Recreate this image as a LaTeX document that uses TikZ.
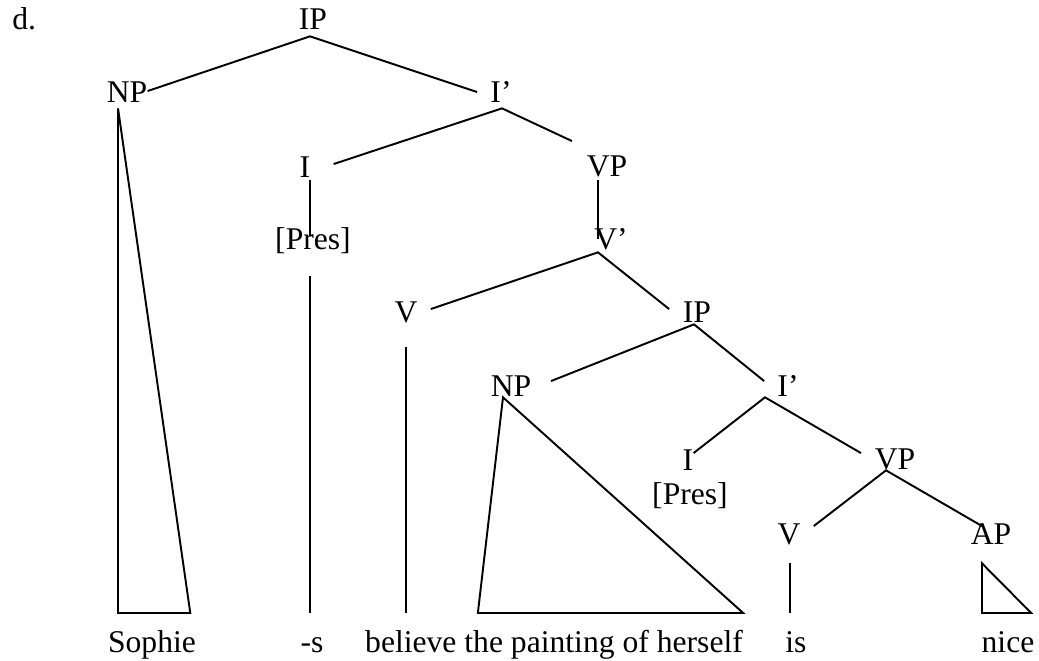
\documentclass[tikz,border=0pt]{standalone}
\usepackage{fontspec}
\setmainfont{Liberation Serif}
\newcommand{\treefont}{\fontsize{18}{21}\selectfont}

\tikzset{
  % tree labels sit on their baseline
  cat/.style = {
    anchor=base,
    inner sep=0pt,
    text height=0.66em,
    text depth=0pt,
    font=\treefont
  },
  branch/.style = {
    line width=1.1pt
  }
}

\begin{document}
\begin{tikzpicture}[x=0.02cm, y=-0.02cm]
    \useasboundingbox (0,0) rectangle (1039,661);

    \node[cat, anchor=base west] (d) at (12,30) {d.};

    % upper clause
    \node[cat] (ip1) at (313,30) {IP};
    \node[cat] (np1) at (127,103) {NP};
    \node[cat] (ib1) at (501,103) {I’};
    \node[cat] (i1) at (305,178) {I};
    \node[cat] (pres1) at (313,250) {[Pres]};
    \node[cat] (vp1) at (607,177) {VP};
    \node[cat] (vb1) at (611,250) {V’};
    \node[cat] (v1) at (406,323) {V};

    % embedded clause
    \node[cat] (ip2) at (697,323) {IP};
    \node[cat] (np2) at (511,397) {NP};
    \node[cat] (ib2) at (788,397) {I’};
    \node[cat] (i2) at (688,471) {I};
    \node[cat] (pres2) at (690,505) {[Pres]};
    \node[cat] (vp2) at (895,470) {VP};
    \node[cat] (v2) at (789,545) {V};
    \node[cat] (ap) at (991,545) {AP};

    % words
    \node[cat] (sophie) at (152,653) {Sophie};
    \node[cat] (s) at (312,653) {-s};
    \node[cat] (believe) at (554,653) {believe the painting of herself};
    \node[cat] (is) at (796,653) {is};
    \node[cat] (nice) at (1008,653) {nice};

    \coordinate (floor) at (0,613);

    % branches
    \draw[branch] (np1.north east) -- ([shift={(-3,6)}]ip1.south) -- ([shift={(-13,1)}]ib1.north west);
    \draw[branch] ([shift={(23,-2)}]i1.north east) -- ([shift={(1,5)}]ib1.south) -- ([shift={(-14.5,-24)}]vp1.north west);
    \draw[branch] ([shift={(5,2)}]i1.south) -- ([shift={(-3,-2)}]pres1.north);
    \draw[branch] ([shift={(-3,26)}]pres1.south) -- ([shift={(-3,0)}]pres1.south |- floor);
    \draw[branch] ([shift={(-9,3)}]vp1.south) -- ([shift={(-13,1)}]vb1.north);
    \draw[branch] ([shift={(13,-2)}]v1.north east) -- ([shift={(-13,2)}]vb1.south) -- ([shift={(-13.5,-2)}]ip2.north west);
    \draw[branch] ([shift={(0,24)}]v1.south) -- (v1.south |- floor);
    \draw[branch] ([shift={(19.5,-4)}]np2.north east) -- ([shift={(-3,1)}]ip2.south) -- ([shift={(-13,-4)}]ib2.north west);
    \draw[branch] ([shift={(0,-6)}]i2.north east) -- ([shift={(-23,0)}]ib2.south) -- ([shift={(-13.5,-5)}]vp2.north west);
    \draw[branch] ([shift={(13,-7)}]v2.north east) -- ([shift={(-9,0)}]vp2.south) -- ([shift={(11.5,-7)}]ap.north west);
    \draw[branch] ([shift={(1,18)}]v2.south) -- ([shift={(1,0)}]v2.south |- floor);

    % triangles
    \draw[branch] ([shift={(-9,5)}]np1.south) -- ([shift={(-9,0)}]np1.south |- floor) -- ([shift={(-6,0)}]sophie.east |- floor) -- cycle;
    \draw[branch] ([shift={(-8,0)}]np2.south) -- ([shift={(113,0)}]believe.west |- floor) -- (believe.east |- floor) -- cycle;
    \draw[branch] ([shift={(-9,18)}]ap.south) -- ([shift={(-9,0)}]ap.south |- floor) -- ([shift={(-3.5,0)}]nice.east |- floor) -- cycle;
\end{tikzpicture}
\end{document}
